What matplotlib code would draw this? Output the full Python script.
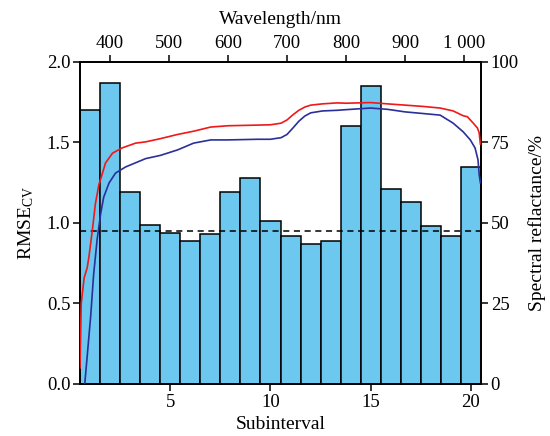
import numpy as np
import matplotlib
matplotlib.use("Agg")
import matplotlib.pyplot as plt

plt.rcParams["font.family"] = ["Liberation Serif", "DejaVu Serif"]
plt.rcParams["mathtext.fontset"] = "custom"
plt.rcParams["mathtext.rm"] = "Liberation Serif"
plt.rcParams["mathtext.it"] = "Liberation Serif:italic"

# RMSE_CV for each subinterval
subinterval = list(range(1, 21))
rmse_cv = [1.70, 1.87, 1.19, 0.99, 0.94, 0.89, 0.93, 1.19, 1.28, 1.01,
           0.92, 0.87, 0.89, 1.60, 1.85, 1.21, 1.13, 0.98, 0.92, 1.35]
rmse_ref = 0.95

# spectra (wavelength nm, reflectance %)
red_wl = [350, 351, 352, 357, 362, 365, 371, 376, 382, 388, 393, 405, 421, 444,
          461, 486, 515, 542, 571, 600, 650, 672, 690, 700, 710, 720, 730, 740, 760,
          785, 800, 841, 870, 900, 930, 959, 981, 998, 1005, 1015, 1022, 1025, 1027]
red_r = [5, 15, 25, 33, 36, 39.4, 48, 56, 62, 65.5, 68.6, 71.7, 73.3, 74.8,
         75.2, 76.2, 77.5, 78.5, 79.8, 80.2, 80.4, 80.5, 81.0, 82.0, 83.6, 85.0, 86.0, 86.6, 87.0,
         87.3, 87.2, 87.4, 87.0, 86.6, 86.2, 85.7, 84.8, 83.3, 83.0, 81.0, 79.5, 78.0, 74.5]
blue_wl = [358, 362, 368, 373, 379, 385, 390, 399, 410, 427, 461, 486, 515, 542,
           571, 600, 650, 672, 690, 700, 710, 720, 730, 740, 760, 785, 800, 841, 870,
           900, 930, 959, 981, 998, 1010, 1018, 1023, 1025, 1027]
blue_r = [0, 8.4, 21, 34, 45, 53, 58, 62.4, 65.5, 67.4, 70, 71, 72.7, 74.8,
          75.8, 75.8, 76.0, 76.0, 76.5, 77.5, 79.5, 81.6, 83.2, 84.2, 84.8, 85.0, 85.2, 85.7, 85.3,
          84.5, 84.0, 83.5, 81.0, 78.3, 75.8, 73.3, 69.6, 65.0, 62.5]

wl_ticks = [400, 500, 600, 700, 800, 900, 1000]
wl_labels = ["400", "500", "600", "700", "800", "900", "1 000"]

fig = plt.figure(figsize=(5.5, 4.36), dpi=100)
ax = fig.add_axes([0.1455, 0.1193, 0.729, 0.7385])

ax.bar(subinterval, rmse_cv, width=1.0, color="#6CC8EE", edgecolor="black",
       linewidth=1.1, zorder=2)
ax.axhline(rmse_ref, color="black", linestyle=(0, (4, 3)), linewidth=1.1, zorder=4)
ax.set_xlim(0.5, 20.5)
ax.set_ylim(0, 2.0)
ax.set_xticks([5, 10, 15, 20])
ax.set_yticks(np.arange(0, 2.01, 0.5))
ax.set_yticklabels(["0.0", "0.5", "1.0", "1.5", "2.0"])
ax.set_xlabel("Subinterval", fontsize=14, labelpad=4)
ax.set_ylabel(r"RMSE$_{\rm CV}$", fontsize=14, labelpad=8)

ax2 = ax.twinx()
ax2.set_ylim(0, 100)
ax2.set_yticks([0, 25, 50, 75, 100])
ax2.set_ylabel("Spectral reflactance/%", fontsize=14, labelpad=7)

ax3 = ax2.twiny()
ax3.set_xlim(350, 1028)
ax3.set_ylim(0, 100)
ax3.plot(red_wl, red_r, color="#F01818", linewidth=1.2, zorder=5)
ax3.plot(blue_wl, blue_r, color="#2A2F9A", linewidth=1.2, zorder=5)
ax3.set_xticks(wl_ticks)
ax3.set_xticklabels(wl_labels)
ax3.set_xlabel("Wavelength/nm", fontsize=14, labelpad=8)

for a in (ax, ax2, ax3):
    for s in a.spines.values():
        s.set_linewidth(1.1)
    a.tick_params(labelsize=13.5, length=5, width=1.1, direction="out", pad=2)

fig.savefig("out.png", dpi=100, facecolor="white")
